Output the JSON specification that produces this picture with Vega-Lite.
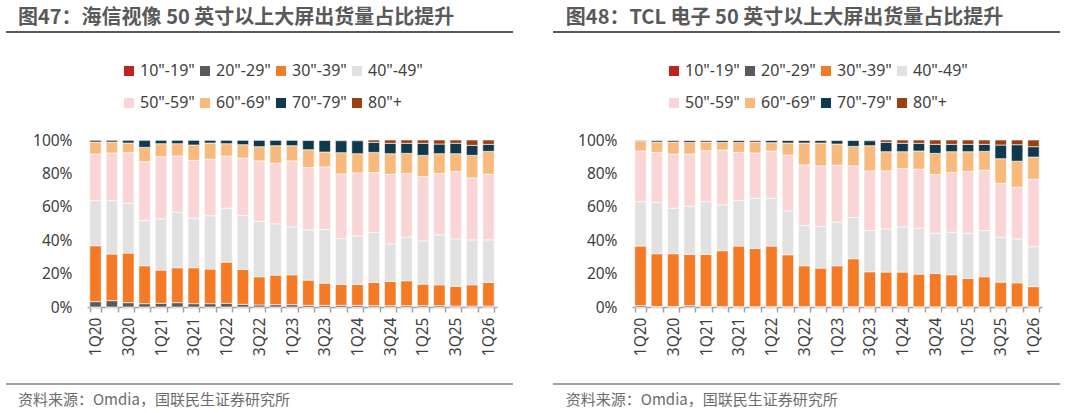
{
  "$schema": "https://vega.github.io/schema/vega-lite/v6.json",
  "background": "white",
  "padding": {"left": 5, "top": 0, "right": 0, "bottom": 0},
  "spacing": 0,
  "datasets": {
    "hisense": [
      {"q": "1Q20", "s10": 0, "s20": 3.2, "s30": 33.5, "s40": 27.0, "s50": 27.9, "s60": 7.2, "s70": 1.2, "s80": 0},
      {"q": "2Q20", "s10": 0, "s20": 3.8, "s30": 27.9, "s40": 32.0, "s50": 28.5, "s60": 6.6, "s70": 1.2, "s80": 0},
      {"q": "3Q20", "s10": 0, "s20": 2.6, "s30": 29.7, "s40": 29.9, "s50": 30.2, "s60": 5.8, "s70": 1.8, "s80": 0},
      {"q": "4Q20", "s10": 0, "s20": 2.0, "s30": 22.7, "s40": 27.1, "s50": 35.2, "s60": 8.6, "s70": 4.4, "s80": 0},
      {"q": "1Q21", "s10": 0, "s20": 2.2, "s30": 19.9, "s40": 30.7, "s50": 37.2, "s60": 7.8, "s70": 2.2, "s80": 0},
      {"q": "2Q21", "s10": 0, "s20": 2.6, "s30": 20.9, "s40": 33.3, "s50": 33.6, "s60": 7.4, "s70": 2.2, "s80": 0},
      {"q": "3Q21", "s10": 0, "s20": 2.0, "s30": 21.5, "s40": 29.7, "s50": 34.6, "s60": 9.2, "s70": 3.0, "s80": 0},
      {"q": "4Q21", "s10": 0, "s20": 2.0, "s30": 20.7, "s40": 31.9, "s50": 34.0, "s60": 9.6, "s70": 1.8, "s80": 0},
      {"q": "1Q22", "s10": 0, "s20": 2.2, "s30": 24.7, "s40": 32.3, "s50": 31.2, "s60": 7.4, "s70": 2.2, "s80": 0},
      {"q": "2Q22", "s10": 0, "s20": 1.6, "s30": 20.9, "s40": 32.3, "s50": 34.4, "s60": 8.0, "s70": 2.8, "s80": 0},
      {"q": "3Q22", "s10": 0, "s20": 1.2, "s30": 16.9, "s40": 33.3, "s50": 36.1, "s60": 8.5, "s70": 4.0, "s80": 0},
      {"q": "4Q22", "s10": 0, "s20": 1.4, "s30": 17.7, "s40": 30.7, "s50": 36.3, "s60": 10.5, "s70": 3.4, "s80": 0},
      {"q": "1Q23", "s10": 0, "s20": 1.4, "s30": 17.9, "s40": 28.7, "s50": 39.5, "s60": 9.1, "s70": 3.4, "s80": 0},
      {"q": "2Q23", "s10": 0, "s20": 1.0, "s30": 15.1, "s40": 30.1, "s50": 37.3, "s60": 10.7, "s70": 5.6, "s80": 0.2},
      {"q": "3Q23", "s10": 0, "s20": 1.0, "s30": 13.3, "s40": 32.1, "s50": 37.5, "s60": 8.9, "s70": 7.0, "s80": 0.2},
      {"q": "4Q23", "s10": 0, "s20": 1.0, "s30": 12.5, "s40": 27.5, "s50": 38.7, "s60": 12.7, "s70": 7.2, "s80": 0.4},
      {"q": "1Q24", "s10": 0, "s20": 1.0, "s30": 12.5, "s40": 29.1, "s50": 37.7, "s60": 11.5, "s70": 7.8, "s80": 0.4},
      {"q": "2Q24", "s10": 0, "s20": 0.8, "s30": 13.9, "s40": 29.9, "s50": 35.9, "s60": 12.1, "s70": 6.0, "s80": 1.4},
      {"q": "3Q24", "s10": 0, "s20": 0.8, "s30": 14.5, "s40": 22.5, "s50": 41.7, "s60": 12.3, "s70": 6.2, "s80": 2.0},
      {"q": "4Q24", "s10": 0, "s20": 0.8, "s30": 14.9, "s40": 26.1, "s50": 38.1, "s60": 12.1, "s70": 6.0, "s80": 2.0},
      {"q": "1Q25", "s10": 0, "s20": 0.8, "s30": 12.9, "s40": 25.9, "s50": 38.5, "s60": 12.7, "s70": 7.2, "s80": 2.0},
      {"q": "2Q25", "s10": 0, "s20": 0.8, "s30": 12.5, "s40": 29.9, "s50": 36.7, "s60": 11.9, "s70": 5.8, "s80": 2.4},
      {"q": "3Q25", "s10": 0, "s20": 0.6, "s30": 11.8, "s40": 28.4, "s50": 40.3, "s60": 10.7, "s70": 6.2, "s80": 2.0},
      {"q": "4Q25", "s10": 0, "s20": 0.6, "s30": 12.7, "s40": 26.9, "s50": 37.1, "s60": 13.5, "s70": 6.0, "s80": 3.2},
      {"q": "1Q26", "s10": 0, "s20": 0.6, "s30": 14.1, "s40": 25.5, "s50": 39.3, "s60": 13.7, "s70": 4.2, "s80": 2.6}
    ],
    "tcl": [
      {"q": "1Q20", "s10": 0, "s20": 0.8, "s30": 35.7, "s40": 26.6, "s50": 30.3, "s60": 5.8, "s70": 0.6, "s80": 0.2},
      {"q": "2Q20", "s10": 0, "s20": 0.3, "s30": 31.6, "s40": 30.8, "s50": 29.9, "s60": 6.2, "s70": 1.0, "s80": 0.2},
      {"q": "3Q20", "s10": 0, "s20": 0.3, "s30": 31.6, "s40": 27.3, "s50": 32.4, "s60": 7.2, "s70": 1.0, "s80": 0.2},
      {"q": "4Q20", "s10": 0, "s20": 0.8, "s30": 30.7, "s40": 28.9, "s50": 31.2, "s60": 7.0, "s70": 1.2, "s80": 0.2},
      {"q": "1Q21", "s10": 0, "s20": 0.3, "s30": 31.2, "s40": 31.6, "s50": 30.5, "s60": 5.2, "s70": 1.0, "s80": 0.2},
      {"q": "2Q21", "s10": 0, "s20": 0.2, "s30": 33.5, "s40": 27.5, "s50": 32.8, "s60": 4.6, "s70": 1.2, "s80": 0.2},
      {"q": "3Q21", "s10": 0, "s20": 0.2, "s30": 36.3, "s40": 27.2, "s50": 28.9, "s60": 6.0, "s70": 1.2, "s80": 0.2},
      {"q": "4Q21", "s10": 0, "s20": 0.2, "s30": 34.9, "s40": 30.0, "s50": 27.1, "s60": 6.6, "s70": 1.0, "s80": 0.2},
      {"q": "1Q22", "s10": 0, "s20": 0.2, "s30": 36.3, "s40": 28.6, "s50": 28.3, "s60": 5.0, "s70": 1.4, "s80": 0.2},
      {"q": "2Q22", "s10": 0, "s20": 0.2, "s30": 31.1, "s40": 26.3, "s50": 33.4, "s60": 7.2, "s70": 1.6, "s80": 0.2},
      {"q": "3Q22", "s10": 0, "s20": 0.2, "s30": 24.5, "s40": 24.1, "s50": 36.3, "s60": 13.1, "s70": 1.6, "s80": 0.2},
      {"q": "4Q22", "s10": 0, "s20": 0.2, "s30": 23.1, "s40": 24.9, "s50": 36.3, "s60": 13.7, "s70": 1.6, "s80": 0.2},
      {"q": "1Q23", "s10": 0, "s20": 0.2, "s30": 24.5, "s40": 26.1, "s50": 34.1, "s60": 12.7, "s70": 2.2, "s80": 0.2},
      {"q": "2Q23", "s10": 0, "s20": 0.2, "s30": 28.7, "s40": 24.7, "s50": 30.9, "s60": 11.7, "s70": 3.6, "s80": 0.2},
      {"q": "3Q23", "s10": 0, "s20": 0.2, "s30": 20.9, "s40": 24.7, "s50": 35.7, "s60": 15.1, "s70": 3.0, "s80": 0.4},
      {"q": "4Q23", "s10": 0, "s20": 0.2, "s30": 20.7, "s40": 25.9, "s50": 34.7, "s60": 11.5, "s70": 5.6, "s80": 1.4},
      {"q": "1Q24", "s10": 0, "s20": 0.2, "s30": 20.7, "s40": 27.1, "s50": 34.9, "s60": 10.1, "s70": 5.0, "s80": 2.0},
      {"q": "2Q24", "s10": 0, "s20": 0.1, "s30": 19.6, "s40": 27.5, "s50": 35.3, "s60": 10.9, "s70": 4.6, "s80": 2.0},
      {"q": "3Q24", "s10": 0, "s20": 0.1, "s30": 20.0, "s40": 24.1, "s50": 35.1, "s60": 12.7, "s70": 5.4, "s80": 2.6},
      {"q": "4Q24", "s10": 0, "s20": 0.1, "s30": 19.2, "s40": 25.5, "s50": 35.7, "s60": 12.5, "s70": 4.4, "s80": 2.6},
      {"q": "1Q25", "s10": 0, "s20": 0.1, "s30": 17.0, "s40": 26.9, "s50": 37.1, "s60": 11.9, "s70": 4.4, "s80": 2.6},
      {"q": "2Q25", "s10": 0, "s20": 0.1, "s30": 18.0, "s40": 27.7, "s50": 36.1, "s60": 11.3, "s70": 4.2, "s80": 2.6},
      {"q": "3Q25", "s10": 0, "s20": 0.1, "s30": 14.8, "s40": 26.9, "s50": 32.3, "s60": 14.7, "s70": 8.2, "s80": 3.0},
      {"q": "4Q25", "s10": 0, "s20": 0.1, "s30": 14.4, "s40": 26.3, "s50": 30.9, "s60": 15.6, "s70": 9.9, "s80": 2.8},
      {"q": "1Q26", "s10": 0, "s20": 0.1, "s30": 12.1, "s40": 23.9, "s50": 40.4, "s60": 13.3, "s70": 6.2, "s80": 4.0}
    ]
  },
  "vconcat": [
    {
      "spacing": 38,
      "hconcat": [
        {
          "width": 426,
          "height": 63,
          "data": {"values": [{"t": "图47：海信视像 50 英寸以上大屏出货量占比提升"}]},
          "layer": [
            {
              "mark": {"type": "text", "align": "left", "baseline": "middle", "fontSize": 20, "fontWeight": "bold", "font": "Noto Sans CJK SC", "color": "#595959"},
              "encoding": {
                "x": {"datum": -0.162, "type": "quantitative", "scale": {"domain": [0, 1]}, "axis": null},
                "y": {"datum": 0.714, "type": "quantitative", "scale": {"domain": [0, 1]}, "axis": null},
                "text": {"field": "t"}
              }
            },
            {
              "mark": {"type": "rule", "color": "#595959", "strokeWidth": 2},
              "encoding": {
                "x": {"datum": -0.19, "type": "quantitative"},
                "x2": {"datum": 1},
                "y": {"datum": 0.492, "type": "quantitative"}
              }
            }
          ]
        },
        {
          "width": 426,
          "height": 63,
          "data": {"values": [{"t": "图48：TCL 电子 50 英寸以上大屏出货量占比提升"}]},
          "layer": [
            {
              "mark": {"type": "text", "align": "left", "baseline": "middle", "fontSize": 20, "fontWeight": "bold", "font": "Noto Sans CJK SC", "color": "#595959"},
              "encoding": {
                "x": {"datum": -0.16, "type": "quantitative", "scale": {"domain": [0, 1]}, "axis": null},
                "y": {"datum": 0.714, "type": "quantitative", "scale": {"domain": [0, 1]}, "axis": null},
                "text": {"field": "t"}
              }
            },
            {
              "mark": {"type": "rule", "color": "#595959", "strokeWidth": 2},
              "encoding": {
                "x": {"datum": -0.19, "type": "quantitative"},
                "x2": {"datum": 1},
                "y": {"datum": 0.492, "type": "quantitative"}
              }
            }
          ]
        }
      ]
    },
    {
      "spacing": 54,
      "resolve": {"scale": {"color": "independent"}, "legend": {"color": "independent"}},
      "hconcat": [
        {
          "width": 410,
          "height": 167,
          "data": {"name": "hisense"},
          "transform": [{"fold": ["s10", "s20", "s30", "s40", "s50", "s60", "s70", "s80"], "as": ["size", "share"]}],
          "mark": {"type": "bar", "stroke": "white", "strokeWidth": 0.6},
          "encoding": {
            "x": {
              "field": "q", "type": "ordinal", "sort": null,
              "scale": {"paddingInner": 0.3, "paddingOuter": 0.17},
              "axis": {
                "title": null, "labelAngle": -90, "labelOverlap": false,
                "labelExpr": "test(/^[13]Q/, datum.value) ? datum.value : ''",
                "tickBand": "extent", "tickSize": 5, "tickColor": "#A0A0A0", "tickWidth": 1.5,
                "domainColor": "#A0A0A0", "domainWidth": 1.5,
                "labelFontSize": 15.5, "labelPadding": 5, "labelColor": "#404040"
              }
            },
            "y": {
              "field": "share", "type": "quantitative", "stack": "normalize",
              "scale": {"domain": [0, 1]},
              "axis": {
                "title": null, "format": ".0%", "values": [0, 0.2, 0.4, 0.6, 0.8, 1],
                "domain": false, "ticks": false, "tickSize": 0, "grid": false,
                "labelFontSize": 15.5, "labelPadding": 15, "labelColor": "#404040", "minExtent": 81
              }
            },
            "order": {"field": "size", "sort": "ascending"},
            "color": {
              "field": "size", "type": "nominal",
              "scale": {
                "domain": ["s10", "s20", "s30", "s40", "s50", "s60", "s70", "s80"],
                "range": ["#C0231F", "#595A5E", "#F57A25", "#E1E1E1", "#F9D5D5", "#F8BA7C", "#0F3A4E", "#9B4010"]
              },
              "legend": {
                "orient": "none", "legendX": 34, "legendY": -77, "direction": "horizontal", "columns": 4,
                "title": null, "symbolType": "square", "symbolSize": 100, "symbolStrokeWidth": 0,
                "labelFontSize": 16, "labelColor": "#404040", "labelOffset": 3, "columnPadding": 2, "rowPadding": 16, "padding": 0,
                "labelExpr": "{'s10': '10\"-19\"', 's20': '20\"-29\"', 's30': '30\"-39\"', 's40': '40\"-49\"', 's50': '50\"-59\"', 's60': '60\"-69\"', 's70': '70\"-79\"', 's80': '80\"+'}[datum.value]"
              }
            }
          }
        },
        {
          "width": 410,
          "height": 167,
          "data": {"name": "tcl"},
          "transform": [{"fold": ["s10", "s20", "s30", "s40", "s50", "s60", "s70", "s80"], "as": ["size", "share"]}],
          "mark": {"type": "bar", "stroke": "white", "strokeWidth": 0.6},
          "encoding": {
            "x": {
              "field": "q", "type": "ordinal", "sort": null,
              "scale": {"paddingInner": 0.3, "paddingOuter": 0.17},
              "axis": {
                "title": null, "labelAngle": -90, "labelOverlap": false,
                "labelExpr": "test(/^[13]Q/, datum.value) ? datum.value : ''",
                "tickBand": "extent", "tickSize": 5, "tickColor": "#A0A0A0", "tickWidth": 1.5,
                "domainColor": "#A0A0A0", "domainWidth": 1.5,
                "labelFontSize": 15.5, "labelPadding": 5, "labelColor": "#404040"
              }
            },
            "y": {
              "field": "share", "type": "quantitative", "stack": "normalize",
              "scale": {"domain": [0, 1]},
              "axis": {
                "title": null, "format": ".0%", "values": [0, 0.2, 0.4, 0.6, 0.8, 1],
                "domain": false, "ticks": false, "tickSize": 0, "grid": false,
                "labelFontSize": 15.5, "labelPadding": 15, "labelColor": "#404040", "minExtent": 81
              }
            },
            "order": {"field": "size", "sort": "ascending"},
            "color": {
              "field": "size", "type": "nominal",
              "scale": {
                "domain": ["s10", "s20", "s30", "s40", "s50", "s60", "s70", "s80"],
                "range": ["#C0231F", "#595A5E", "#F57A25", "#E1E1E1", "#F9D5D5", "#F8BA7C", "#0F3A4E", "#9B4010"]
              },
              "legend": {
                "orient": "none", "legendX": 34, "legendY": -77, "direction": "horizontal", "columns": 4,
                "title": null, "symbolType": "square", "symbolSize": 100, "symbolStrokeWidth": 0,
                "labelFontSize": 16, "labelColor": "#404040", "labelOffset": 3, "columnPadding": 2, "rowPadding": 16, "padding": 0,
                "labelExpr": "{'s10': '10\"-19\"', 's20': '20\"-29\"', 's30': '30\"-39\"', 's40': '40\"-49\"', 's50': '50\"-59\"', 's60': '60\"-69\"', 's70': '70\"-79\"', 's80': '80\"+'}[datum.value]"
              }
            }
          }
        }
      ]
    },
    {
      "spacing": 38,
      "hconcat": [
        {
          "width": 426,
          "height": 58,
          "data": {"values": [{"t": "资料来源：Omdia，国联民生证券研究所"}]},
          "layer": [
            {
              "mark": {"type": "text", "align": "left", "baseline": "middle", "fontSize": 15, "font": "Noto Sans CJK SC", "color": "#6B6B6B"},
              "encoding": {
                "x": {"datum": -0.162, "type": "quantitative", "scale": {"domain": [0, 1]}, "axis": null},
                "y": {"datum": 0.241, "type": "quantitative", "scale": {"domain": [0, 1]}, "axis": null},
                "text": {"field": "t"}
              }
            },
            {
              "mark": {"type": "rule", "color": "#808080", "strokeWidth": 1.5},
              "encoding": {
                "x": {"datum": -0.19, "type": "quantitative"},
                "x2": {"datum": 1},
                "y": {"datum": 0.517, "type": "quantitative"}
              }
            }
          ]
        },
        {
          "width": 426,
          "height": 58,
          "data": {"values": [{"t": "资料来源：Omdia，国联民生证券研究所"}]},
          "layer": [
            {
              "mark": {"type": "text", "align": "left", "baseline": "middle", "fontSize": 15, "font": "Noto Sans CJK SC", "color": "#6B6B6B"},
              "encoding": {
                "x": {"datum": -0.16, "type": "quantitative", "scale": {"domain": [0, 1]}, "axis": null},
                "y": {"datum": 0.241, "type": "quantitative", "scale": {"domain": [0, 1]}, "axis": null},
                "text": {"field": "t"}
              }
            },
            {
              "mark": {"type": "rule", "color": "#808080", "strokeWidth": 1.5},
              "encoding": {
                "x": {"datum": -0.19, "type": "quantitative"},
                "x2": {"datum": 1},
                "y": {"datum": 0.517, "type": "quantitative"}
              }
            }
          ]
        }
      ]
    }
  ],
  "config": {
    "view": {"stroke": null},
    "font": "Noto Sans",
    "axis": {"labelFont": "Noto Sans"},
    "legend": {"labelFont": "Noto Sans"}
  }
}
